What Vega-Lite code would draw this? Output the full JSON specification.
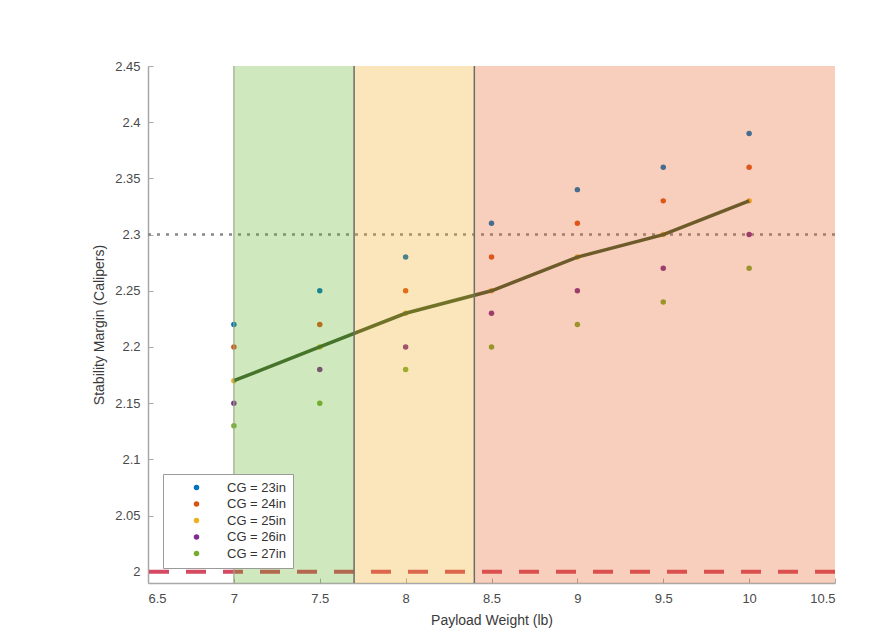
{
  "$schema": "https://vega.github.io/schema/vega-lite/v6.json",
  "width": 687,
  "height": 517,
  "autosize": {"type": "none"},
  "padding": {"left": 148, "top": 66, "right": 61, "bottom": 59},
  "background": "#ffffff",
  "config": {
    "view": {"stroke": null},
    "font": "Liberation Sans",
    "axis": {
      "domainColor": "#a8a8a8",
      "domainWidth": 1.5,
      "tickColor": "#a8a8a8",
      "tickSize": -5,
      "labelColor": "#4a4a4a",
      "labelFontSize": 13,
      "titleColor": "#3a3a3a",
      "titleFontSize": 14,
      "titleFontWeight": "normal",
      "grid": false
    }
  },
  "datasets": {
    "points": [
      {"w": 7, "cg": "CG = 23in", "sm": 2.22},
      {"w": 7, "cg": "CG = 24in", "sm": 2.20},
      {"w": 7, "cg": "CG = 25in", "sm": 2.17},
      {"w": 7, "cg": "CG = 26in", "sm": 2.15},
      {"w": 7, "cg": "CG = 27in", "sm": 2.13},
      {"w": 7.5, "cg": "CG = 23in", "sm": 2.25},
      {"w": 7.5, "cg": "CG = 24in", "sm": 2.22},
      {"w": 7.5, "cg": "CG = 25in", "sm": 2.20},
      {"w": 7.5, "cg": "CG = 26in", "sm": 2.18},
      {"w": 7.5, "cg": "CG = 27in", "sm": 2.15},
      {"w": 8, "cg": "CG = 23in", "sm": 2.28},
      {"w": 8, "cg": "CG = 24in", "sm": 2.25},
      {"w": 8, "cg": "CG = 25in", "sm": 2.23},
      {"w": 8, "cg": "CG = 26in", "sm": 2.20},
      {"w": 8, "cg": "CG = 27in", "sm": 2.18},
      {"w": 8.5, "cg": "CG = 23in", "sm": 2.31},
      {"w": 8.5, "cg": "CG = 24in", "sm": 2.28},
      {"w": 8.5, "cg": "CG = 25in", "sm": 2.25},
      {"w": 8.5, "cg": "CG = 26in", "sm": 2.23},
      {"w": 8.5, "cg": "CG = 27in", "sm": 2.20},
      {"w": 9, "cg": "CG = 23in", "sm": 2.34},
      {"w": 9, "cg": "CG = 24in", "sm": 2.31},
      {"w": 9, "cg": "CG = 25in", "sm": 2.28},
      {"w": 9, "cg": "CG = 26in", "sm": 2.25},
      {"w": 9, "cg": "CG = 27in", "sm": 2.22},
      {"w": 9.5, "cg": "CG = 23in", "sm": 2.36},
      {"w": 9.5, "cg": "CG = 24in", "sm": 2.33},
      {"w": 9.5, "cg": "CG = 25in", "sm": 2.30},
      {"w": 9.5, "cg": "CG = 26in", "sm": 2.27},
      {"w": 9.5, "cg": "CG = 27in", "sm": 2.24},
      {"w": 10, "cg": "CG = 23in", "sm": 2.39},
      {"w": 10, "cg": "CG = 24in", "sm": 2.36},
      {"w": 10, "cg": "CG = 25in", "sm": 2.33},
      {"w": 10, "cg": "CG = 26in", "sm": 2.30},
      {"w": 10, "cg": "CG = 27in", "sm": 2.27}
    ],
    "zones": [
      {"zone": "low", "x0": 7, "x1": 7.7, "y0": 1.99, "y1": 2.45},
      {"zone": "medium", "x0": 7.7, "x1": 8.4, "y0": 1.99, "y1": 2.45},
      {"zone": "high", "x0": 8.4, "x1": 10.5, "y0": 1.99, "y1": 2.45}
    ],
    "refs": [
      {"kind": "target", "level": 2.3},
      {"kind": "minimum", "level": 2.0}
    ],
    "edges": [
      {"kind": "start", "pos": 7},
      {"kind": "boundary", "pos": 7.7},
      {"kind": "boundary", "pos": 8.4}
    ]
  },
  "layer": [
    {
      "data": {"name": "refs"},
      "transform": [{"filter": "datum.kind == 'target'"}],
      "mark": {"type": "rule", "color": "#888888", "strokeWidth": 2.5, "strokeDash": [3, 6]},
      "encoding": {
        "y": {"field": "level", "type": "quantitative", "scale": {"domain": [1.99, 2.45], "nice": false, "zero": false}}
      }
    },
    {
      "data": {"name": "refs"},
      "transform": [{"filter": "datum.kind == 'minimum'"}],
      "mark": {"type": "rule", "color": "#d44a62", "strokeWidth": 4, "strokeDash": [20, 17]},
      "encoding": {
        "y": {"field": "level", "type": "quantitative"}
      }
    },
    {
      "data": {"name": "points"},
      "mark": {"type": "circle", "size": 30, "opacity": 1},
      "encoding": {
        "x": {
          "field": "w", "type": "quantitative",
          "scale": {"domain": [6.5, 10.5], "nice": false, "zero": false},
          "axis": {"values": [6.5, 7, 7.5, 8, 8.5, 9, 9.5, 10, 10.5], "format": "~g", "title": "Payload Weight (lb)", "labelPadding": 14, "titlePadding": 8}
        },
        "y": {
          "field": "sm", "type": "quantitative",
          "axis": {"values": [2, 2.05, 2.1, 2.15, 2.2, 2.25, 2.3, 2.35, 2.4, 2.45], "format": "~g", "title": "Stability Margin (Calipers)", "labelPadding": 13, "titlePadding": 8}
        },
        "color": {
          "field": "cg", "type": "nominal",
          "scale": {"domain": ["CG = 23in", "CG = 24in", "CG = 25in", "CG = 26in", "CG = 27in"], "range": ["#0072bd", "#d95319", "#edb120", "#7e2f8e", "#77ac30"]},
          "legend": {
            "title": null,
            "orient": "bottom-left",
            "offset": 15,
            "fillColor": "#ffffff",
            "strokeColor": "#9a9a9a",
            "padding": 7,
            "symbolType": "circle",
            "symbolSize": 30,
            "symbolOffset": 20,
            "symbolStrokeWidth": 0,
            "labelOffset": 24,
            "labelFontSize": 13,
            "labelColor": "#333333",
            "rowPadding": 2.5
          }
        }
      }
    },
    {
      "data": {"name": "points"},
      "transform": [{"filter": "datum.cg == 'CG = 25in'"}],
      "mark": {"type": "line", "color": "#3a5a2e", "strokeWidth": 3.5},
      "encoding": {
        "x": {"field": "w", "type": "quantitative"},
        "y": {"field": "sm", "type": "quantitative"}
      }
    },
    {
      "data": {"name": "zones"},
      "mark": {"type": "rect", "opacity": 0.3},
      "encoding": {
        "x": {"field": "x0", "type": "quantitative"},
        "x2": {"field": "x1"},
        "y": {"field": "y0", "type": "quantitative"},
        "y2": {"field": "y1"},
        "fill": {
          "field": "zone", "type": "nominal",
          "scale": {"domain": ["low", "medium", "high"], "range": ["#62b226", "#eeac19", "#e85f20"]},
          "legend": null
        }
      }
    },
    {
      "data": {"name": "edges"},
      "transform": [{"filter": "datum.kind == 'boundary'"}],
      "mark": {"type": "rule", "color": "#6e6e64", "strokeWidth": 1.5},
      "encoding": {
        "x": {"field": "pos", "type": "quantitative"}
      }
    },
    {
      "data": {"name": "edges"},
      "transform": [{"filter": "datum.kind == 'start'"}],
      "mark": {"type": "rule", "color": "#9aaa8c", "strokeWidth": 1.2},
      "encoding": {
        "x": {"field": "pos", "type": "quantitative"}
      }
    }
  ],
  "resolve": {"scale": {"color": "independent", "fill": "independent"}}
}
